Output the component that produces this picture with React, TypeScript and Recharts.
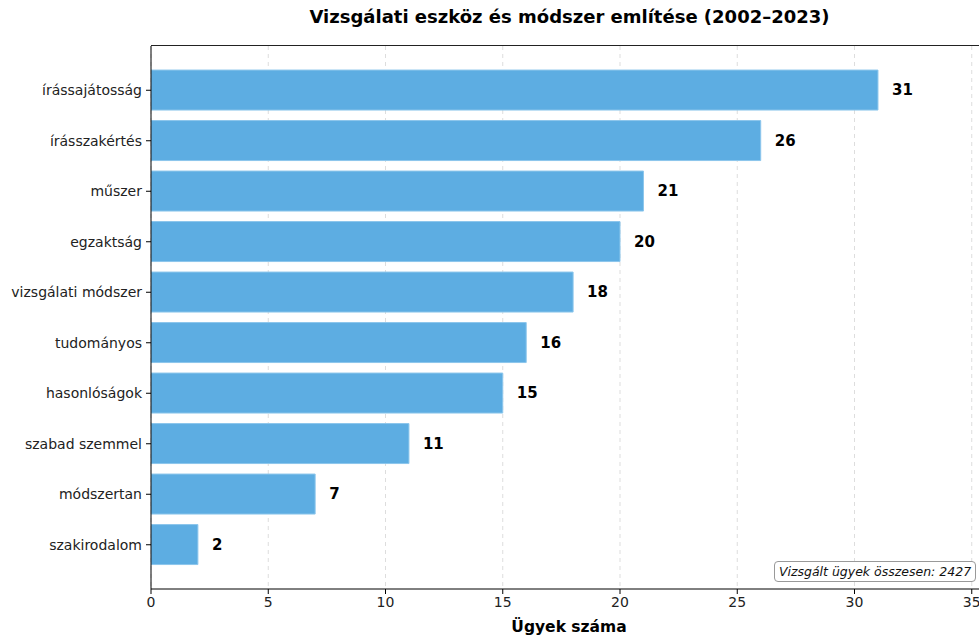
import React from 'react';
import { BarChart, Bar, XAxis, YAxis, CartesianGrid, LabelList } from 'recharts';

const categories = ['írássajátosság', 'írásszakértés', 'műszer', 'egzaktság', 'vizsgálati módszer', 'tudományos', 'hasonlóságok', 'szabad szemmel', 'módszertan', 'szakirodalom'];
const counts = [31, 26, 21, 20, 18, 16, 15, 11, 7, 2];
const xTicks = [0, 5, 10, 15, 20, 25, 30, 35];
const title = 'Vizsgálati eszköz és módszer említése (2002–2023)';
const xLabel = 'Ügyek száma';
const note = 'Vizsgált ügyek összesen: 2427';

const data = categories.map((c, i) => ({ name: c, value: counts[i] }));
const FONT = '"DejaVu Sans", sans-serif';

export default function App() {
  return (
    <div style={{ position: 'absolute', left: 0, top: 0, width: 979, height: 637, overflow: 'hidden', background: '#fff', fontFamily: FONT }}>
      <div style={{ position: 'absolute', left: 0, width: 1139, top: 6, textAlign: 'center', fontWeight: 'bold', fontSize: 18, color: '#000' }}>{title}</div>
      <BarChart
        width={1000}
        height={637}
        data={data}
        layout="vertical"
        margin={{ top: 46, right: 13, bottom: 0, left: 0 }}
        barCategoryGap="10%"
      >
        <CartesianGrid horizontal={false} strokeDasharray="4 4" stroke="#dddddd" />
        <XAxis
          type="number"
          domain={[0, 35.65]}
          ticks={xTicks}
          allowDataOverflow
          height={48}
          tickSize={5}
          tickMargin={3}
          stroke="#000"
          tick={{ fill: '#222', fontSize: 14, fontFamily: FONT }}
          label={{ value: xLabel, position: 'insideBottom', offset: 5, style: { fontWeight: 'bold', fontSize: 15.5, fill: '#000', fontFamily: FONT } }}
        />
        <YAxis
          type="category"
          dataKey="name"
          width={151}
          tickSize={5}
          tickMargin={4}
          stroke="#000"
          padding={{ top: 19, bottom: 19 }}
          tick={{ fill: '#222', fontSize: 14, fontFamily: FONT }}
        />
        <Bar dataKey="value" fill="#5DADE2" stroke="#8cc6ec" strokeWidth={1} isAnimationActive={false}>
          <LabelList dataKey="value" position="right" offset={14} style={{ fontWeight: 'bold', fontSize: 15, fill: '#000', fontFamily: FONT }} />
        </Bar>
      </BarChart>
      <div style={{ position: 'absolute', left: 151, top: 45, width: 840, height: 1, background: '#222' }} />
      <div style={{ position: 'absolute', left: 774, top: 561, width: 202, height: 21, boxSizing: 'border-box', border: '1px solid #999', borderRadius: 4, background: '#fff', fontStyle: 'italic', fontSize: 12.5, lineHeight: '19px', textAlign: 'center', color: '#111', whiteSpace: 'nowrap' }}>{note}</div>
    </div>
  );
}
